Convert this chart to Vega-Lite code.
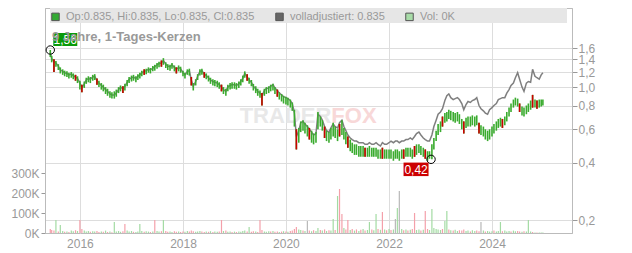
{
"$schema":"https://vega.github.io/schema/vega-lite/v6.json",
"width":527,"height":225,
"autosize":{"type":"none"},
"padding":{"left":45,"top":8,"right":60,"bottom":20},
"background":"white",
"config":{"view":{"stroke":"#bbbbbb"},"font":"Liberation Sans"},
"title":{"text":"9 Jahre, 1-Tages-Kerzen","anchor":"start","frame":"group","orient":"top","offset":-46,"dx":7,"baseline":"alphabetic","fontSize":13,"fontWeight":"bold","color":"#999999","font":"Liberation Sans","zindex":-1},
"datasets":{
"p":[
{"d":"2015-06-05","lo":1.44,"hi":1.567,"a":1.52,"dir":"down","v":20000},
{"d":"2015-06-15","lo":1.35,"hi":1.46,"a":1.41,"dir":"down","v":15000},
{"d":"2015-07-01","lo":1.20,"hi":1.40,"a":1.37,"dir":"down","v":12000,"cr":1},
{"d":"2015-07-15","lo":1.28,"hi":1.37,"a":1.34,"dir":"up","v":65000},
{"d":"2015-08-01","lo":1.23,"hi":1.32,"a":1.29,"dir":"down","v":8000},
{"d":"2015-08-15","lo":1.18,"hi":1.27,"a":1.23,"dir":"up","v":40000},
{"d":"2015-09-01","lo":1.16,"hi":1.24,"a":1.21,"dir":"up","v":10000},
{"d":"2015-09-15","lo":1.14,"hi":1.22,"a":1.19,"dir":"down","v":6000},
{"d":"2015-10-01","lo":1.13,"hi":1.21,"a":1.18,"dir":"up","v":8000},
{"d":"2015-10-15","lo":1.11,"hi":1.19,"a":1.16,"dir":"down","v":5000},
{"d":"2015-11-01","lo":1.12,"hi":1.20,"a":1.17,"dir":"up","v":12000},
{"d":"2015-11-15","lo":1.10,"hi":1.18,"a":1.15,"dir":"up","v":9000},
{"d":"2015-12-01","lo":1.08,"hi":1.16,"a":1.13,"dir":"down","v":14000,"cr":1},
{"d":"2015-12-15","lo":1.05,"hi":1.14,"a":1.11,"dir":"up","v":10000},
{"d":"2016-01-01","lo":0.97,"hi":1.08,"a":1.05,"dir":"down","v":65000},
{"d":"2016-01-15","lo":0.94,"hi":1.03,"a":0.99,"dir":"down","v":20000,"cr":1},
{"d":"2016-02-01","lo":0.99,"hi":1.07,"a":1.04,"dir":"up","v":12000},
{"d":"2016-02-15","lo":1.04,"hi":1.12,"a":1.09,"dir":"up","v":8000},
{"d":"2016-03-01","lo":1.06,"hi":1.14,"a":1.11,"dir":"up","v":10000},
{"d":"2016-03-15","lo":1.05,"hi":1.13,"a":1.10,"dir":"down","v":6000},
{"d":"2016-04-01","lo":1.08,"hi":1.16,"a":1.13,"dir":"up","v":9000},
{"d":"2016-04-15","lo":1.09,"hi":1.17,"a":1.14,"dir":"up","v":7000},
{"d":"2016-05-01","lo":1.03,"hi":1.11,"a":1.08,"dir":"down","v":10000,"cr":1},
{"d":"2016-05-15","lo":1.00,"hi":1.08,"a":1.05,"dir":"down","v":5000},
{"d":"2016-06-01","lo":0.97,"hi":1.05,"a":1.02,"dir":"up","v":8000},
{"d":"2016-06-15","lo":0.95,"hi":1.03,"a":1.00,"dir":"down","v":6000},
{"d":"2016-07-01","lo":0.92,"hi":1.00,"a":0.97,"dir":"up","v":12000},
{"d":"2016-07-15","lo":0.90,"hi":0.98,"a":0.95,"dir":"down","v":5000},
{"d":"2016-08-01","lo":0.88,"hi":0.95,"a":0.92,"dir":"up","v":7000},
{"d":"2016-08-15","lo":0.87,"hi":0.94,"a":0.91,"dir":"down","v":4000},
{"d":"2016-09-01","lo":0.87,"hi":0.95,"a":0.91,"dir":"up","v":55000},
{"d":"2016-09-15","lo":0.89,"hi":0.97,"a":0.93,"dir":"up","v":8000},
{"d":"2016-10-01","lo":0.93,"hi":1.00,"a":0.97,"dir":"up","v":10000},
{"d":"2016-10-15","lo":0.95,"hi":1.02,"a":1.00,"dir":"up","v":6000},
{"d":"2016-11-01","lo":0.93,"hi":1.01,"a":0.98,"dir":"down","v":9000,"cr":1},
{"d":"2016-11-15","lo":0.96,"hi":1.04,"a":1.01,"dir":"down","v":45000},
{"d":"2016-12-01","lo":1.01,"hi":1.09,"a":1.06,"dir":"up","v":12000},
{"d":"2016-12-15","lo":1.05,"hi":1.13,"a":1.10,"dir":"up","v":8000},
{"d":"2017-01-01","lo":1.07,"hi":1.15,"a":1.12,"dir":"up","v":10000},
{"d":"2017-01-15","lo":1.08,"hi":1.16,"a":1.13,"dir":"down","v":6000},
{"d":"2017-02-01","lo":1.06,"hi":1.14,"a":1.11,"dir":"up","v":5000},
{"d":"2017-02-15","lo":1.09,"hi":1.17,"a":1.14,"dir":"up","v":8000},
{"d":"2017-03-01","lo":1.11,"hi":1.19,"a":1.16,"dir":"up","v":45000},
{"d":"2017-03-15","lo":1.14,"hi":1.22,"a":1.19,"dir":"up","v":10000},
{"d":"2017-04-01","lo":1.16,"hi":1.24,"a":1.21,"dir":"down","v":6000,"cr":1},
{"d":"2017-04-15","lo":1.17,"hi":1.25,"a":1.22,"dir":"up","v":9000},
{"d":"2017-05-01","lo":1.19,"hi":1.27,"a":1.24,"dir":"up","v":7000},
{"d":"2017-05-15","lo":1.18,"hi":1.26,"a":1.23,"dir":"down","v":5000},
{"d":"2017-06-01","lo":1.21,"hi":1.29,"a":1.26,"dir":"up","v":8000},
{"d":"2017-06-15","lo":1.22,"hi":1.31,"a":1.28,"dir":"down","v":65000},
{"d":"2017-07-01","lo":1.25,"hi":1.34,"a":1.31,"dir":"up","v":10000},
{"d":"2017-07-15","lo":1.27,"hi":1.36,"a":1.33,"dir":"up","v":7000},
{"d":"2017-08-01","lo":1.28,"hi":1.38,"a":1.34,"dir":"down","v":9000,"cr":1},
{"d":"2017-08-15","lo":1.31,"hi":1.42,"a":1.38,"dir":"up","v":65000},
{"d":"2017-09-01","lo":1.26,"hi":1.35,"a":1.32,"dir":"down","v":10000},
{"d":"2017-09-15","lo":1.23,"hi":1.32,"a":1.29,"dir":"down","v":6000},
{"d":"2017-10-01","lo":1.22,"hi":1.31,"a":1.28,"dir":"up","v":8000},
{"d":"2017-10-15","lo":1.25,"hi":1.34,"a":1.31,"dir":"up","v":5000},
{"d":"2017-11-01","lo":1.21,"hi":1.30,"a":1.27,"dir":"down","v":9000},
{"d":"2017-11-15","lo":1.18,"hi":1.27,"a":1.24,"dir":"down","v":6000,"cr":1},
{"d":"2017-12-01","lo":1.21,"hi":1.30,"a":1.27,"dir":"up","v":7000},
{"d":"2017-12-15","lo":1.19,"hi":1.28,"a":1.25,"dir":"down","v":5000},
{"d":"2018-01-01","lo":1.14,"hi":1.22,"a":1.19,"dir":"down","v":8000},
{"d":"2018-01-15","lo":1.11,"hi":1.19,"a":1.16,"dir":"up","v":6000},
{"d":"2018-02-01","lo":1.16,"hi":1.24,"a":1.21,"dir":"up","v":10000},
{"d":"2018-02-15","lo":1.15,"hi":1.25,"a":1.22,"dir":"down","v":7000},
{"d":"2018-03-01","lo":1.02,"hi":1.13,"a":1.09,"dir":"down","v":12000,"cr":1},
{"d":"2018-03-15","lo":0.96,"hi":1.05,"a":1.01,"dir":"down","v":9000},
{"d":"2018-04-01","lo":1.02,"hi":1.10,"a":1.07,"dir":"up","v":6000},
{"d":"2018-04-15","lo":1.09,"hi":1.17,"a":1.14,"dir":"up","v":8000},
{"d":"2018-05-01","lo":1.15,"hi":1.24,"a":1.21,"dir":"up","v":10000},
{"d":"2018-05-15","lo":1.16,"hi":1.25,"a":1.22,"dir":"down","v":7000},
{"d":"2018-06-01","lo":1.12,"hi":1.20,"a":1.17,"dir":"down","v":5000,"cr":1},
{"d":"2018-06-15","lo":1.10,"hi":1.18,"a":1.15,"dir":"up","v":8000},
{"d":"2018-07-01","lo":1.07,"hi":1.15,"a":1.12,"dir":"down","v":6000},
{"d":"2018-07-15","lo":1.04,"hi":1.12,"a":1.09,"dir":"up","v":9000},
{"d":"2018-08-01","lo":1.02,"hi":1.10,"a":1.07,"dir":"down","v":5000},
{"d":"2018-08-15","lo":1.01,"hi":1.09,"a":1.06,"dir":"up","v":7000},
{"d":"2018-09-01","lo":1.00,"hi":1.08,"a":1.05,"dir":"up","v":6000},
{"d":"2018-09-15","lo":0.98,"hi":1.06,"a":1.03,"dir":"down","v":8000},
{"d":"2018-10-01","lo":0.95,"hi":1.03,"a":1.00,"dir":"down","v":65000,"cr":1},
{"d":"2018-10-15","lo":0.92,"hi":1.00,"a":0.97,"dir":"up","v":10000},
{"d":"2018-11-01","lo":0.90,"hi":0.98,"a":0.95,"dir":"down","v":12000},
{"d":"2018-11-15","lo":0.95,"hi":1.03,"a":1.00,"dir":"up","v":6000},
{"d":"2018-12-01","lo":0.97,"hi":1.05,"a":1.02,"dir":"up","v":8000},
{"d":"2018-12-15","lo":0.98,"hi":1.06,"a":1.03,"dir":"down","v":5000},
{"d":"2019-01-01","lo":0.98,"hi":1.06,"a":1.03,"dir":"up","v":7000},
{"d":"2019-01-15","lo":0.97,"hi":1.05,"a":1.02,"dir":"down","v":5000},
{"d":"2019-02-01","lo":0.99,"hi":1.07,"a":1.04,"dir":"up","v":8000},
{"d":"2019-02-15","lo":1.02,"hi":1.10,"a":1.07,"dir":"up","v":6000},
{"d":"2019-03-01","lo":1.06,"hi":1.15,"a":1.11,"dir":"up","v":10000},
{"d":"2019-03-15","lo":1.12,"hi":1.21,"a":1.18,"dir":"up","v":12000},
{"d":"2019-04-01","lo":1.08,"hi":1.17,"a":1.13,"dir":"down","v":8000,"cr":1},
{"d":"2019-04-15","lo":1.04,"hi":1.12,"a":1.09,"dir":"up","v":30000},
{"d":"2019-05-01","lo":1.01,"hi":1.09,"a":1.06,"dir":"down","v":6000},
{"d":"2019-05-15","lo":0.96,"hi":1.04,"a":1.01,"dir":"down","v":9000},
{"d":"2019-06-01","lo":0.93,"hi":1.01,"a":0.98,"dir":"up","v":7000},
{"d":"2019-06-15","lo":0.90,"hi":0.98,"a":0.95,"dir":"down","v":5000},
{"d":"2019-07-01","lo":0.88,"hi":0.96,"a":0.93,"dir":"down","v":65000},
{"d":"2019-07-15","lo":0.80,"hi":0.93,"a":0.90,"dir":"down","v":15000,"cr":1},
{"d":"2019-08-01","lo":0.90,"hi":0.98,"a":0.96,"dir":"up","v":8000},
{"d":"2019-08-15","lo":0.92,"hi":1.00,"a":0.98,"dir":"up","v":6000},
{"d":"2019-09-01","lo":0.93,"hi":1.01,"a":0.99,"dir":"up","v":9000},
{"d":"2019-09-15","lo":0.95,"hi":1.03,"a":1.01,"dir":"down","v":7000},
{"d":"2019-10-01","lo":0.96,"hi":1.04,"a":1.03,"dir":"up","v":10000},
{"d":"2019-10-15","lo":0.92,"hi":1.00,"a":0.99,"dir":"down","v":6000},
{"d":"2019-11-01","lo":0.89,"hi":0.97,"a":0.96,"dir":"down","v":8000,"cr":1},
{"d":"2019-11-15","lo":0.86,"hi":0.94,"a":0.93,"dir":"up","v":5000},
{"d":"2019-12-01","lo":0.84,"hi":0.92,"a":0.91,"dir":"down","v":7000},
{"d":"2019-12-15","lo":0.82,"hi":0.90,"a":0.89,"dir":"up","v":9000},
{"d":"2020-01-01","lo":0.81,"hi":0.89,"a":0.88,"dir":"down","v":8000},
{"d":"2020-01-15","lo":0.80,"hi":0.88,"a":0.87,"dir":"up","v":6000},
{"d":"2020-02-01","lo":0.78,"hi":0.86,"a":0.85,"dir":"down","v":10000},
{"d":"2020-02-15","lo":0.75,"hi":0.83,"a":0.82,"dir":"down","v":12000},
{"d":"2020-03-01","lo":0.62,"hi":0.76,"a":0.73,"dir":"down","v":20000},
{"d":"2020-03-15","lo":0.47,"hi":0.60,"a":0.55,"dir":"down","v":30000,"cr":1},
{"d":"2020-04-01","lo":0.51,"hi":0.61,"a":0.59,"dir":"up","v":18000},
{"d":"2020-04-15","lo":0.58,"hi":0.66,"a":0.65,"dir":"up","v":15000},
{"d":"2020-05-01","lo":0.59,"hi":0.67,"a":0.66,"dir":"down","v":12000},
{"d":"2020-05-15","lo":0.57,"hi":0.65,"a":0.64,"dir":"up","v":10000},
{"d":"2020-06-01","lo":0.55,"hi":0.63,"a":0.62,"dir":"flat","v":60000},
{"d":"2020-06-15","lo":0.53,"hi":0.61,"a":0.60,"dir":"down","v":12000,"cr":1},
{"d":"2020-07-01","lo":0.51,"hi":0.59,"a":0.58,"dir":"up","v":9000},
{"d":"2020-07-15","lo":0.50,"hi":0.57,"a":0.56,"dir":"down","v":14000},
{"d":"2020-08-01","lo":0.51,"hi":0.58,"a":0.57,"dir":"up","v":10000},
{"d":"2020-08-15","lo":0.60,"hi":0.74,"a":0.72,"dir":"up","v":25000},
{"d":"2020-09-01","lo":0.62,"hi":0.70,"a":0.70,"dir":"down","v":15000},
{"d":"2020-09-15","lo":0.59,"hi":0.67,"a":0.67,"dir":"up","v":12000},
{"d":"2020-10-01","lo":0.54,"hi":0.62,"a":0.62,"dir":"down","v":18000,"cr":1},
{"d":"2020-10-15","lo":0.52,"hi":0.59,"a":0.59,"dir":"up","v":10000},
{"d":"2020-11-01","lo":0.51,"hi":0.58,"a":0.58,"dir":"down","v":14000},
{"d":"2020-11-15","lo":0.53,"hi":0.61,"a":0.61,"dir":"up","v":12000},
{"d":"2020-12-01","lo":0.55,"hi":0.65,"a":0.64,"dir":"up","v":70000},
{"d":"2020-12-15","lo":0.54,"hi":0.62,"a":0.62,"dir":"down","v":15000},
{"d":"2021-01-01","lo":0.52,"hi":0.60,"a":0.61,"dir":"up","v":185000},
{"d":"2021-01-15","lo":0.55,"hi":0.64,"a":0.65,"dir":"down","v":220000,"cr":1},
{"d":"2021-02-01","lo":0.56,"hi":0.67,"a":0.67,"dir":"down","v":95000},
{"d":"2021-02-15","lo":0.53,"hi":0.61,"a":0.62,"dir":"up","v":25000},
{"d":"2021-03-01","lo":0.50,"hi":0.58,"a":0.59,"dir":"down","v":18000},
{"d":"2021-03-15","lo":0.48,"hi":0.55,"a":0.56,"dir":"down","v":65000,"cr":1},
{"d":"2021-04-01","lo":0.46,"hi":0.53,"a":0.54,"dir":"up","v":15000},
{"d":"2021-04-15","lo":0.45,"hi":0.51,"a":0.53,"dir":"down","v":20000},
{"d":"2021-05-01","lo":0.44,"hi":0.50,"a":0.52,"dir":"up","v":12000},
{"d":"2021-05-15","lo":0.44,"hi":0.50,"a":0.52,"dir":"down","v":18000},
{"d":"2021-06-01","lo":0.43,"hi":0.49,"a":0.51,"dir":"up","v":10000},
{"d":"2021-06-15","lo":0.43,"hi":0.49,"a":0.51,"dir":"down","v":16000},
{"d":"2021-07-01","lo":0.43,"hi":0.49,"a":0.51,"dir":"up","v":20000},
{"d":"2021-07-15","lo":0.43,"hi":0.48,"a":0.50,"dir":"down","v":12000,"cr":1},
{"d":"2021-08-01","lo":0.43,"hi":0.48,"a":0.50,"dir":"up","v":15000},
{"d":"2021-08-15","lo":0.43,"hi":0.49,"a":0.51,"dir":"up","v":55000},
{"d":"2021-09-01","lo":0.43,"hi":0.48,"a":0.50,"dir":"down","v":18000},
{"d":"2021-09-15","lo":0.43,"hi":0.48,"a":0.50,"dir":"up","v":14000},
{"d":"2021-10-01","lo":0.43,"hi":0.48,"a":0.51,"dir":"up","v":95000},
{"d":"2021-10-15","lo":0.42,"hi":0.47,"a":0.50,"dir":"down","v":20000},
{"d":"2021-11-01","lo":0.42,"hi":0.47,"a":0.49,"dir":"up","v":16000},
{"d":"2021-11-15","lo":0.42,"hi":0.48,"a":0.51,"dir":"down","v":105000,"cr":1},
{"d":"2021-12-01","lo":0.42,"hi":0.47,"a":0.50,"dir":"up","v":18000},
{"d":"2021-12-15","lo":0.42,"hi":0.47,"a":0.50,"dir":"down","v":14000},
{"d":"2022-01-01","lo":0.42,"hi":0.47,"a":0.51,"dir":"up","v":20000},
{"d":"2022-01-15","lo":0.42,"hi":0.47,"a":0.52,"dir":"down","v":15000},
{"d":"2022-02-01","lo":0.41,"hi":0.46,"a":0.51,"dir":"up","v":18000},
{"d":"2022-02-15","lo":0.42,"hi":0.47,"a":0.52,"dir":"flat","v":70000},
{"d":"2022-03-01","lo":0.42,"hi":0.47,"a":0.52,"dir":"up","v":125000},
{"d":"2022-03-15","lo":0.41,"hi":0.46,"a":0.51,"dir":"flat","v":210000},
{"d":"2022-04-01","lo":0.42,"hi":0.47,"a":0.52,"dir":"up","v":20000},
{"d":"2022-04-15","lo":0.42,"hi":0.47,"a":0.52,"dir":"down","v":14000,"cr":1},
{"d":"2022-05-01","lo":0.43,"hi":0.48,"a":0.53,"dir":"up","v":18000},
{"d":"2022-05-15","lo":0.43,"hi":0.48,"a":0.53,"dir":"down","v":12000},
{"d":"2022-06-01","lo":0.43,"hi":0.48,"a":0.54,"dir":"up","v":16000},
{"d":"2022-06-15","lo":0.42,"hi":0.47,"a":0.53,"dir":"down","v":20000},
{"d":"2022-07-01","lo":0.43,"hi":0.49,"a":0.55,"dir":"down","v":100000,"cr":1},
{"d":"2022-07-15","lo":0.44,"hi":0.50,"a":0.57,"dir":"up","v":15000},
{"d":"2022-08-01","lo":0.45,"hi":0.50,"a":0.58,"dir":"up","v":18000},
{"d":"2022-08-15","lo":0.44,"hi":0.49,"a":0.56,"dir":"down","v":12000},
{"d":"2022-09-01","lo":0.43,"hi":0.48,"a":0.54,"dir":"up","v":16000},
{"d":"2022-09-15","lo":0.42,"hi":0.47,"a":0.53,"dir":"down","v":110000,"cr":1},
{"d":"2022-10-01","lo":0.41,"hi":0.46,"a":0.52,"dir":"down","v":20000},
{"d":"2022-10-15","lo":0.42,"hi":0.46,"a":0.52,"dir":"up","v":15000},
{"d":"2022-11-01","lo":0.417,"hi":0.50,"a":0.56,"dir":"up","v":120000},
{"d":"2022-11-15","lo":0.47,"hi":0.54,"a":0.62,"dir":"up","v":25000},
{"d":"2022-12-01","lo":0.52,"hi":0.59,"a":0.67,"dir":"up","v":20000},
{"d":"2022-12-15","lo":0.56,"hi":0.64,"a":0.72,"dir":"up","v":18000},
{"d":"2023-01-01","lo":0.58,"hi":0.66,"a":0.74,"dir":"up","v":15000},
{"d":"2023-01-15","lo":0.62,"hi":0.70,"a":0.77,"dir":"down","v":20000,"cr":1},
{"d":"2023-02-01","lo":0.65,"hi":0.73,"a":0.85,"dir":"up","v":60000},
{"d":"2023-02-15","lo":0.66,"hi":0.74,"a":0.90,"dir":"up","v":110000},
{"d":"2023-03-01","lo":0.68,"hi":0.76,"a":0.92,"dir":"down","v":18000},
{"d":"2023-03-15","lo":0.67,"hi":0.75,"a":0.88,"dir":"up","v":14000},
{"d":"2023-04-01","lo":0.66,"hi":0.74,"a":0.86,"dir":"down","v":12000},
{"d":"2023-04-15","lo":0.65,"hi":0.73,"a":0.87,"dir":"up","v":16000},
{"d":"2023-05-01","lo":0.66,"hi":0.74,"a":0.88,"dir":"up","v":10000},
{"d":"2023-05-15","lo":0.64,"hi":0.72,"a":0.86,"dir":"down","v":14000},
{"d":"2023-06-01","lo":0.60,"hi":0.68,"a":0.82,"dir":"down","v":12000},
{"d":"2023-06-15","lo":0.57,"hi":0.66,"a":0.76,"dir":"down","v":18000,"cr":1},
{"d":"2023-07-01","lo":0.61,"hi":0.69,"a":0.81,"dir":"up","v":10000},
{"d":"2023-07-15","lo":0.62,"hi":0.70,"a":0.84,"dir":"up","v":12000},
{"d":"2023-08-01","lo":0.62,"hi":0.70,"a":0.83,"dir":"down","v":8000},
{"d":"2023-08-15","lo":0.63,"hi":0.71,"a":0.85,"dir":"up","v":14000},
{"d":"2023-09-01","lo":0.62,"hi":0.70,"a":0.86,"dir":"up","v":10000},
{"d":"2023-09-15","lo":0.63,"hi":0.71,"a":0.88,"dir":"down","v":12000},
{"d":"2023-10-01","lo":0.57,"hi":0.65,"a":0.80,"dir":"down","v":9000,"cr":1},
{"d":"2023-10-15","lo":0.56,"hi":0.63,"a":0.77,"dir":"flat","v":55000},
{"d":"2023-11-01","lo":0.55,"hi":0.62,"a":0.75,"dir":"up","v":12000},
{"d":"2023-11-15","lo":0.53,"hi":0.60,"a":0.73,"dir":"down","v":8000},
{"d":"2023-12-01","lo":0.52,"hi":0.59,"a":0.72,"dir":"up","v":10000},
{"d":"2023-12-15","lo":0.53,"hi":0.60,"a":0.76,"dir":"up","v":7000},
{"d":"2024-01-01","lo":0.55,"hi":0.62,"a":0.78,"dir":"up","v":9000},
{"d":"2024-01-15","lo":0.57,"hi":0.64,"a":0.80,"dir":"down","v":12000},
{"d":"2024-02-01","lo":0.59,"hi":0.66,"a":0.82,"dir":"up","v":8000},
{"d":"2024-02-15","lo":0.61,"hi":0.68,"a":0.86,"dir":"up","v":10000},
{"d":"2024-03-01","lo":0.62,"hi":0.69,"a":0.87,"dir":"up","v":55000},
{"d":"2024-03-15","lo":0.61,"hi":0.68,"a":0.88,"dir":"down","v":9000,"cr":1},
{"d":"2024-04-01","lo":0.63,"hi":0.70,"a":0.88,"dir":"up","v":12000},
{"d":"2024-04-15","lo":0.66,"hi":0.74,"a":0.93,"dir":"up","v":8000},
{"d":"2024-05-01","lo":0.70,"hi":0.78,"a":0.97,"dir":"up","v":10000},
{"d":"2024-05-15","lo":0.74,"hi":0.82,"a":1.02,"dir":"down","v":7000},
{"d":"2024-06-01","lo":0.78,"hi":0.86,"a":1.05,"dir":"up","v":12000},
{"d":"2024-06-15","lo":0.80,"hi":0.88,"a":1.12,"dir":"up","v":9000},
{"d":"2024-07-01","lo":0.79,"hi":0.87,"a":1.19,"dir":"down","v":10000},
{"d":"2024-07-15","lo":0.74,"hi":0.82,"a":1.10,"dir":"down","v":8000,"cr":1},
{"d":"2024-08-01","lo":0.71,"hi":0.79,"a":1.00,"dir":"up","v":6000},
{"d":"2024-08-15","lo":0.70,"hi":0.78,"a":0.95,"dir":"down","v":9000},
{"d":"2024-09-01","lo":0.72,"hi":0.80,"a":1.05,"dir":"up","v":7000},
{"d":"2024-09-15","lo":0.74,"hi":0.82,"a":1.07,"dir":"up","v":65000},
{"d":"2024-10-01","lo":0.76,"hi":0.85,"a":1.06,"dir":"up","v":8000},
{"d":"2024-10-15","lo":0.78,"hi":0.91,"a":1.24,"dir":"down","v":5000,"cr":1},
{"d":"2024-11-01","lo":0.78,"hi":0.86,"a":1.14,"dir":"up","v":3000},
{"d":"2024-11-15","lo":0.77,"hi":0.85,"a":1.12,"dir":"down","v":2000,"cr":1},
{"d":"2024-12-01","lo":0.78,"hi":0.86,"a":1.10,"dir":"up","v":2000},
{"d":"2024-12-15","lo":0.79,"hi":0.86,"a":1.16,"dir":"up","v":3000},
{"d":"2024-12-27","lo":0.80,"hi":0.86,"a":1.19,"dir":"up","v":2000}
],
"m":[
{"d":"2015-06-05","p":1.567,"label":"1,56","kind":"max"},
{"d":"2022-10-26","p":0.417,"label":"0,42","kind":"min"}
],
"wm":[{"d":"2020-11-18","p":0.705,"t1":"TRADER","t2":"FOX"}],
"leg":[]
},
"layer":[
{
"data":{"name":"p"},
"mark":{"type":"bar","width":1.2},
"encoding":{
"x":{"field":"d","type":"temporal","scale":{"domain":[{"year":2015,"month":6,"date":3},{"year":2025,"month":6,"date":16}]},
"axis":{"values":[{"year":2016},{"year":2018},{"year":2020},{"year":2022},{"year":2024}],"format":"%Y","grid":true,"gridColor":"#dddddd","ticks":false,"domain":false,"labelColor":"#999999","labelFontSize":12,"labelFont":"Liberation Sans","labelPadding":5,"title":null}},
"y":{"field":"v","type":"quantitative","scale":{"domain":[0,1125000],"nice":false,"zero":true},
"axis":{"orient":"left","values":[0,100000,200000,300000],"labelExpr":"(datum.value/1000)+'K'","grid":false,"tickSize":4,"tickColor":"#999999","domainColor":"#bbbbbb","labelColor":"#999999","labelFontSize":12,"labelFont":"Liberation Sans","labelPadding":2,"title":null}},
"color":{"field":"dir","type":"nominal","scale":{"domain":["up","down","flat"],"range":["#a3dba3","#f4a0aa","#b8b8b8"]},"legend":null}
}
},
{
"layer":[
{
"data":{"values":[{"band":"legend"}]},
"mark":{"type":"rect","color":"#e6e6e6"},
"encoding":{
"x":{"datum":{"year":2015,"month":6,"date":3},"type":"temporal"},
"x2":{"datum":{"year":2025,"month":6,"date":16}},
"y":{"datum":2.174,"type":"quantitative","scale":{"type":"log","domain":[0.1709,2.606],"nice":false},
"axis":{"orient":"right","values":[0.2,0.4,0.6,0.8,1.0,1.2,1.4,1.6],"labelExpr":"replace(format(datum.value,'.1f'),'.',',')","labelOverlap":false,"grid":true,"gridColor":"#dddddd","tickSize":5,"tickColor":"#999999","domainColor":"#bbbbbb","labelColor":"#999999","labelFontSize":12,"labelFont":"Liberation Sans","labelPadding":1,"title":null}},
"y2":{"datum":2.606}
}
},
{
"data":{"name":"wm"},
"mark":{"type":"text","align":"right","baseline":"middle","fontSize":22,"fontWeight":"bold","font":"Liberation Sans","color":"#e8e8e8"},
"encoding":{
"x":{"field":"d","type":"temporal"},
"y":{"field":"p","type":"quantitative"},
"text":{"field":"t1"}
}
},
{
"data":{"name":"wm"},
"mark":{"type":"text","align":"left","baseline":"middle","fontSize":22,"fontWeight":"bold","font":"Liberation Sans","color":"#f8d8d8"},
"encoding":{
"x":{"field":"d","type":"temporal"},
"y":{"field":"p","type":"quantitative"},
"text":{"field":"t2"}
}
},
{
"data":{"name":"p"},
"mark":{"type":"line","color":"#7f7f7f","strokeWidth":1.5},
"encoding":{
"x":{"field":"d","type":"temporal"},
"y":{"field":"a","type":"quantitative"}
}
},
{
"data":{"name":"p"},
"mark":{"type":"rule","strokeWidth":1.6,"color":"#3aab2e"},
"encoding":{
"x":{"field":"d","type":"temporal"},
"y":{"field":"lo","type":"quantitative"},
"y2":{"field":"hi"}
}
},
{
"data":{"name":"p"},
"transform":[{"filter":"datum.cr == 1"}],
"mark":{"type":"rule","strokeWidth":1.6,"color":"#cc0000"},
"encoding":{
"x":{"field":"d","type":"temporal"},
"y":{"field":"lo","type":"quantitative"},
"y2":{"field":"hi"}
}
},
{
"data":{"name":"m"},
"mark":{"type":"point","shape":"circle","size":70,"filled":false,"color":"#000000","strokeWidth":1,"opacity":1},
"encoding":{
"x":{"field":"d","type":"temporal"},
"y":{"field":"p","type":"quantitative"}
}
},
{
"data":{"name":"m"},
"transform":[{"filter":"datum.kind == 'max'"}],
"mark":{"type":"point","shape":"M-1,-0.54H1V0.54H-1Z","size":576,"filled":true,"color":"#0a9a0a","opacity":1,"xOffset":15,"yOffset":-10.5},
"encoding":{
"x":{"field":"d","type":"temporal"},
"y":{"field":"p","type":"quantitative"}
}
},
{
"data":{"name":"m"},
"transform":[{"filter":"datum.kind == 'min'"}],
"mark":{"type":"point","shape":"M-1,-0.54H1V0.54H-1Z","size":625,"filled":true,"color":"#cc0000","opacity":1,"xOffset":-15,"yOffset":10},
"encoding":{
"x":{"field":"d","type":"temporal"},
"y":{"field":"p","type":"quantitative"}
}
},
{
"data":{"name":"m"},
"transform":[{"filter":"datum.kind == 'max'"}],
"mark":{"type":"text","color":"white","fontSize":12,"font":"Liberation Sans","align":"center","baseline":"middle","xOffset":15,"yOffset":-10},
"encoding":{
"x":{"field":"d","type":"temporal"},
"y":{"field":"p","type":"quantitative"},
"text":{"field":"label"}
}
},
{
"data":{"name":"m"},
"transform":[{"filter":"datum.kind == 'min'"}],
"mark":{"type":"text","color":"white","fontSize":12,"font":"Liberation Sans","align":"center","baseline":"middle","xOffset":-15,"yOffset":10.5},
"encoding":{
"x":{"field":"d","type":"temporal"},
"y":{"field":"p","type":"quantitative"},
"text":{"field":"label"}
}
}
]
},
{
"data":{"name":"leg"},
"mark":{"type":"point","shape":"square","filled":true},
"encoding":{
"color":{"field":"s","type":"nominal","scale":{"domain":["Op:0.835, Hi:0.835, Lo:0.835, Cl:0.835","volladjustiert: 0.835","Vol: 0K"],"range":["#33aa33","#666666","#a8dca8"]},
"legend":{"orient":"none","legendX":5,"legendY":3,"direction":"horizontal","columns":3,"title":null,"symbolType":"square","symbolSize":56,"symbolStrokeColor":"#555555","symbolStrokeWidth":1,"symbolOpacity":1,"labelFontSize":11,"labelColor":"#999999","labelFont":"Liberation Sans","columnPadding":18,"labelOffset":5,"padding":0,"labelLimit":400}}
}
}
],
"resolve":{"scale":{"y":"independent","color":"independent"}}
}
